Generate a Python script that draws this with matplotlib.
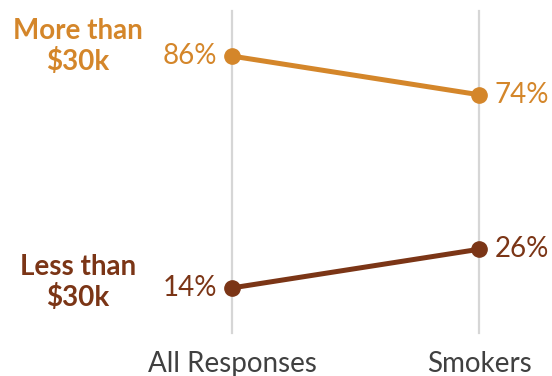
import matplotlib.pyplot as plt

groups = ["All Responses", "Smokers"]
more_than = [86, 74]
less_than = [14, 26]
series_names = ["More than\n$30k", "Less than\n$30k"]

orange = "#d4862a"
brown = "#7b3516"

plt.rcParams["font.family"] = ["Lato", "DejaVu Sans"]

fig = plt.figure(figsize=(5.52, 3.76), dpi=100)
ax = fig.add_axes([232 / 552, 43 / 376, (479 - 232) / 552, (365 - 43) / 376])
ax.set_xlim(0, 1)
ax.set_ylim(0, 100)

xs = list(range(len(groups)))
for x in xs:
    ax.axvline(x, color="#d6d6d6", lw=1.6, zorder=0, clip_on=False)

series = [(more_than, orange, series_names[0], 7), (less_than, brown, series_names[1], 4)]
for vals, col, name, dy in series:
    ax.plot(xs, vals, color=col, lw=3.6, marker="o", ms=11, clip_on=False, zorder=3)
    ax.annotate(f"{vals[0]}%", (xs[0], vals[0]), xytext=(-11, 0), textcoords="offset points",
                ha="right", va="center", color=col, fontsize=20)
    ax.annotate(f"{vals[1]}%", (xs[1], vals[1]), xytext=(11, 0), textcoords="offset points",
                ha="left", va="center", color=col, fontsize=20)
    ax.annotate(name, (xs[0], vals[0]), xytext=(-111, dy), textcoords="offset points",
                ha="center", va="center", color=col, fontsize=20, fontweight="bold",
                linespacing=1.15)

ax.set_xticks(xs)
ax.set_xticklabels(groups, fontsize=20, color="#404040")
ax.tick_params(axis="x", length=0, pad=13)
ax.set_yticks([])
for s in ax.spines.values():
    s.set_visible(False)

fig.savefig("out.png", dpi=100)
